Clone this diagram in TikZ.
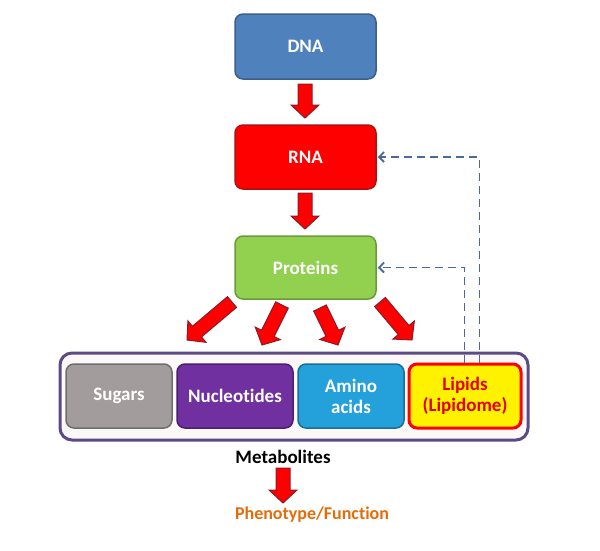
\documentclass[tikz,border=0pt]{standalone}
\usepackage{fontspec}
\setmainfont[Ligatures=NoCommon]{Carlito}
\usetikzlibrary{calc,arrows.meta}
\definecolor{dnafill}{HTML}{4F81BD}
\definecolor{dnaline}{HTML}{3A5F8B}
\definecolor{rnaline}{HTML}{B01010}
\definecolor{protfill}{HTML}{92D050}
\definecolor{protline}{HTML}{6A9B3A}
\definecolor{sugfill}{HTML}{A39C9C}
\definecolor{sugline}{HTML}{6E6E6E}
\definecolor{nucfill}{HTML}{7030A0}
\definecolor{nucline}{HTML}{4B1F70}
\definecolor{amifill}{HTML}{24A0DA}
\definecolor{amiline}{HTML}{1B6E96}
\definecolor{contline}{HTML}{5B4A85}
\definecolor{contfill}{HTML}{FDF8F8}
\definecolor{arrline}{HTML}{8B1A2A}
\definecolor{dashcol}{HTML}{4A6A9E}
\definecolor{phencol}{HTML}{E46C0A}
\newcommand\barr[2]{%
  \coordinate (bc) at ($(#2)!13pt!(#1)$);
  \draw[blockarrow] ($(#1)!7pt!90:(#2)$) -- ($(bc)!7pt!-90:(#1)$) -- ($(bc)!14pt!-90:(#1)$) -- (#2)
    -- ($(bc)!14pt!90:(#1)$) -- ($(bc)!7pt!90:(#1)$) -- ($(#1)!7pt!-90:(#2)$) -- cycle;}
\tikzset{
  box/.style={rounded corners=8pt, line width=1.5pt, font=\bfseries\fontsize{19}{21}\selectfont, text=white, align=center, inner sep=0pt},
  blockarrow/.style={fill=red, draw=arrline, line width=1pt, line join=miter},
  dashline/.style={draw=dashcol, line width=1.8pt, dash pattern=on 8pt off 5pt, -{Straight Barb[length=5pt,width=10pt]}},
}
\begin{document}
\begin{tikzpicture}[x=1pt,y=-1pt]
\useasboundingbox (0,0) rectangle (600,550);
% top chain
\node[box, fill=dnafill, draw=dnaline, minimum width=141pt, minimum height=65pt] (dna) at (305.5,46.5) {DNA};
\node[box, fill=red, draw=rnaline, minimum width=141pt, minimum height=64pt] (rna) at (305.5,157) {RNA};
\node[box, fill=protfill, draw=protline, minimum width=141pt, minimum height=63pt] (prot) at (305.5,267.5) {Proteins};
% container
\node[rounded corners=12pt, draw=contline, fill=contfill, line width=3pt, minimum width=468pt, minimum height=87pt] (cont) at (294,396.5) {};
\node[box, fill=sugfill, draw=sugline, minimum width=106pt, minimum height=64pt] (sug) at (119,396) {Sugars};
\node[box, fill=nucfill, draw=nucline, minimum width=116pt, minimum height=64pt] (nuc) at (235,396) {Nucleotides};
\node[box, fill=amifill, draw=amiline, minimum width=106pt, minimum height=64pt] (ami) at (351,396) {Amino\\acids};
\node[box, fill=yellow, draw=red, line width=3pt, text=red!90!black, minimum width=112pt, minimum height=64pt] (lip) at (465,396) {Lipids\\(Lipidome)};
% texts
\node[font=\bfseries\fontsize{19}{21}\selectfont] (met) at (283,457) {Metabolites};
\node[font=\bfseries\fontsize{18}{20}\selectfont, text=phencol] (phen) at (312,515) {Phenotype/Function};
% arrow coordinates
\coordinate (a1) at (305,84);  \coordinate (b1) at (305,118);
\coordinate (a2) at (305,193); \coordinate (b2) at (305,229);
\coordinate (a3) at (232,302); \coordinate (b3) at (187,340);
\coordinate (a4) at (282,305); \coordinate (b4) at (262,345);
\coordinate (a5) at (320,308); \coordinate (b5) at (338,345);
\coordinate (a6) at (380,302); \coordinate (b6) at (412,340);
\coordinate (a7) at (283,468); \coordinate (b7) at (283,503);
\barr{a1}{b1}
\barr{a2}{b2}
\barr{a3}{b3}
\barr{a4}{b4}
\barr{a5}{b5}
\barr{a6}{b6}
\barr{a7}{b7}
% dashed feedback
\draw[dashline] ([xshift=72pt]lip.north west) |- ([xshift=1pt]rna.east);
\draw[dashline] ([xshift=57pt]lip.north west) |- ([xshift=1pt]prot.east);
\end{tikzpicture}
\end{document}
